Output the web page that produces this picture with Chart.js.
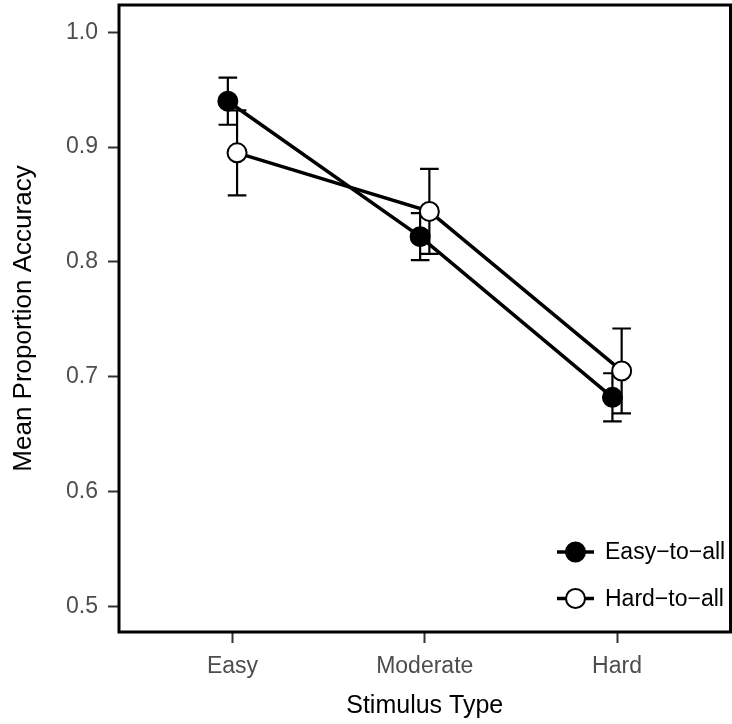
<!DOCTYPE html>
<html>
<head>
<meta charset="utf-8">
<script src="https://cdn.jsdelivr.net/npm/chart.js@4/dist/chart.umd.min.js"></script>
<style>
  html, body { margin: 0; padding: 0; background: #fff; }
  #wrap { width: 732px; height: 724px; }
</style>
</head>
<body>
<div id="wrap"><canvas id="c" width="732" height="724"></canvas></div>
<script>
const categories = ['Easy', 'Moderate', 'Hard'];
const easyToAll = [0.940, 0.822, 0.682];
const easyToAllSE = [0.0205, 0.0205, 0.021];
const hardToAll = [0.895, 0.844, 0.705];
const hardToAllSE = [0.037, 0.037, 0.037];
const yTicks = [0.5, 0.6, 0.7, 0.8, 0.9, 1.0];
const seriesNames = ['Easy\u2212to\u2212all', 'Hard\u2212to\u2212all'];

const FONT = "'Liberation Sans', Arial, Helvetica, sans-serif";
const DODGE = 0.024;

const toPoints = (vals, shift) => vals.map((v, i) => ({ x: i + 1 + shift, y: v }));

// chart.js reserves room for edge labels; the panel should fill the box instead
const noEdgePad = s => { s.paddingLeft = s.paddingRight = s.paddingTop = s.paddingBottom = 0; };

// error bars, drawn under the lines and points
const errorBars = {
  id: 'errorBars',
  beforeDatasetsDraw(chart) {
    const { ctx, scales: { x, y } } = chart;
    const sets = [[easyToAll, easyToAllSE, -DODGE], [hardToAll, hardToAllSE, DODGE]];
    ctx.save();
    ctx.strokeStyle = '#000';
    ctx.lineWidth = 2.2;
    sets.forEach(([vals, se, shift]) => {
      vals.forEach((v, i) => {
        const px = x.getPixelForValue(i + 1 + shift);
        const top = y.getPixelForValue(v + se[i]);
        const bot = y.getPixelForValue(v - se[i]);
        ctx.beginPath();
        ctx.moveTo(px, top); ctx.lineTo(px, bot);
        ctx.moveTo(px - 9.3, top); ctx.lineTo(px + 9.3, top);
        ctx.moveTo(px - 9.3, bot); ctx.lineTo(px + 9.3, bot);
        ctx.stroke();
      });
    });
    ctx.restore();
  },
};

// panel border + legend with line/point keys
const panel = {
  id: 'panel',
  afterDraw(chart) {
    const { ctx, chartArea: a } = chart;
    ctx.save();
    ctx.strokeStyle = '#000';
    ctx.lineWidth = 3;
    ctx.strokeRect(a.left, a.top, a.right - a.left, a.bottom - a.top);

    const rows = [a.bottom - 80, a.bottom - 33.5];
    chart.data.datasets.forEach((ds, i) => {
      const cy = rows[i];
      const x0 = a.left + 438;
      ctx.strokeStyle = '#000';
      ctx.lineWidth = 3.5;
      ctx.beginPath();
      ctx.moveTo(x0, cy); ctx.lineTo(x0 + 37, cy);
      ctx.stroke();
      ctx.beginPath();
      ctx.arc(x0 + 18.5, cy, 9.5, 0, Math.PI * 2);
      ctx.fillStyle = ds.pointBackgroundColor;
      ctx.fill();
      ctx.lineWidth = 2;
      ctx.stroke();
      ctx.fillStyle = '#000';
      ctx.font = `23px ${FONT}`;
      ctx.textBaseline = 'middle';
      ctx.textAlign = 'left';
      ctx.fillText(ds.label, x0 + 48, cy + 1);
    });
    ctx.restore();
  },
};

new Chart(document.getElementById('c'), {
  type: 'line',
  data: {
    datasets: [
      {
        label: seriesNames[0], data: toPoints(easyToAll, -DODGE),
        borderColor: '#000', borderWidth: 3.5,
        pointRadius: 9.5, pointBorderWidth: 2,
        pointBackgroundColor: '#000', pointBorderColor: '#000',
      },
      {
        label: seriesNames[1], data: toPoints(hardToAll, DODGE),
        borderColor: '#000', borderWidth: 3.5,
        pointRadius: 9.5, pointBorderWidth: 2,
        pointBackgroundColor: '#fff', pointBorderColor: '#000',
      },
    ],
  },
  options: {
    responsive: false,
    animation: false,
    devicePixelRatio: 1,
    layout: { autoPadding: false, padding: { top: 5, right: 1.5, left: 0, bottom: 0 } },
    plugins: { legend: { display: false }, tooltip: { enabled: false } },
    scales: {
      x: {
        type: 'linear', min: 0.41, max: 3.59,
        afterBuildTicks: s => { s.ticks = categories.map((c, i) => ({ value: i + 1 })); },
        afterFit: s => { s.height = 92; noEdgePad(s); },
        grid: { drawOnChartArea: false, tickLength: 11, tickColor: '#333', tickWidth: 2 },
        border: { display: false },
        ticks: {
          color: '#4d4d4d', padding: 10, maxRotation: 0,
          font: { family: FONT, size: 23 },
          callback: v => categories[Math.round(v) - 1],
        },
        title: {
          display: true, text: 'Stimulus Type', color: '#000',
          font: { family: FONT, size: 25 }, padding: { top: 0, bottom: 3 },
        },
      },
      y: {
        min: 0.4776, max: 1.0238,
        afterBuildTicks: s => { s.ticks = yTicks.map(v => ({ value: v })); },
        afterFit: s => { s.width = 119; noEdgePad(s); },
        grid: { drawOnChartArea: false, tickLength: 11, tickColor: '#333', tickWidth: 2 },
        border: { display: false },
        ticks: {
          color: '#4d4d4d', padding: 10,
          font: { family: FONT, size: 23 },
          callback: v => v.toFixed(1),
        },
        title: {
          display: true, text: 'Mean Proportion Accuracy', color: '#000',
          font: { family: FONT, size: 26 }, padding: { top: 8, bottom: 0 },
        },
      },
    },
  },
  plugins: [errorBars, panel],
});
</script>
</body>
</html>
